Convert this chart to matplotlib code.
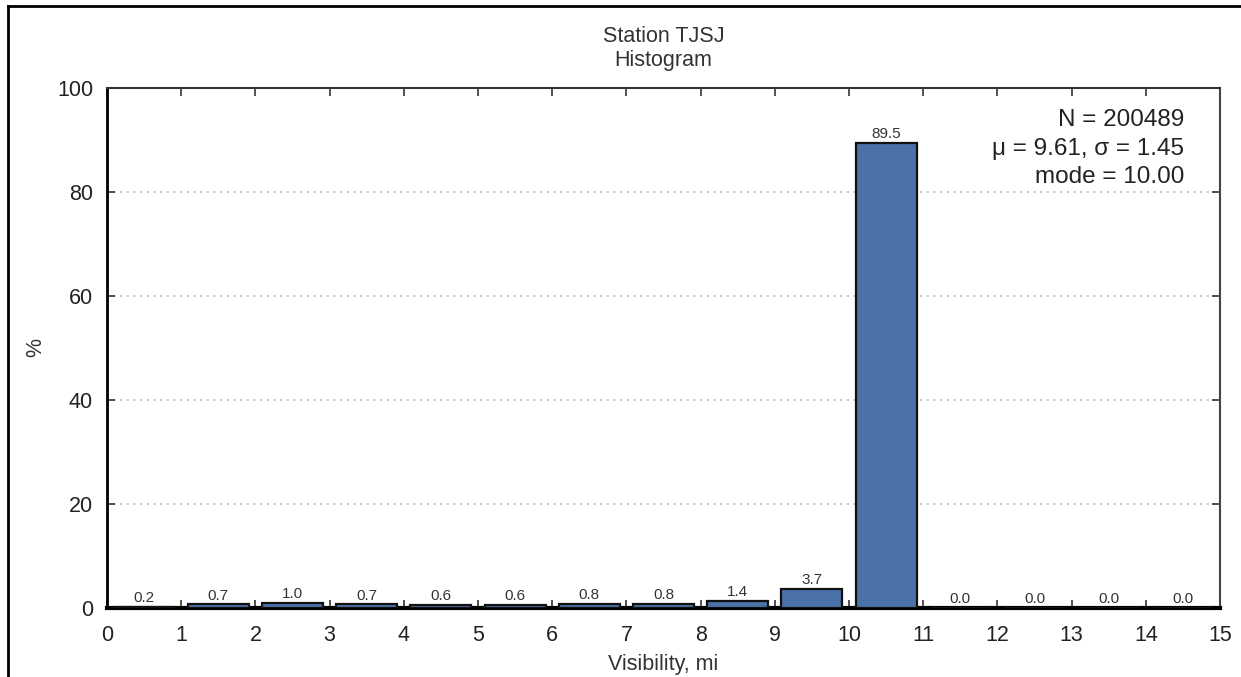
import matplotlib
matplotlib.use("Agg")
import matplotlib.pyplot as plt
from matplotlib.lines import Line2D

plt.rcParams['font.family'] = ['Liberation Sans', 'DejaVu Sans']

bin_left = list(range(0, 15))
percent = [0.2, 0.7, 1.0, 0.7, 0.6, 0.6, 0.8, 0.8, 1.4, 3.7, 89.5, 0.0, 0.0, 0.0, 0.0]
labels = ["0.2", "0.7", "1.0", "0.7", "0.6", "0.6", "0.8", "0.8", "1.4", "3.7", "89.5", "0.0", "0.0", "0.0", "0.0"]
xticks = list(range(0, 16))
yticks = [0, 20, 40, 60, 80, 100]
title = "Station TJSJ\nHistogram"
stats = "N = 200489\n\u03bc = 9.61, \u03c3 = 1.45\nmode = 10.00"

fig = plt.figure(figsize=(12.41, 6.77), dpi=100)
ax = fig.add_axes([0.0862, 0.102, 0.8969, 0.768])

centers = [b + 0.5 for b in bin_left]
ax.bar(centers, percent, width=0.82, color="#4a72a8", edgecolor="#111111", linewidth=1.6, zorder=3)
for c, v, lab in zip(centers, percent, labels):
    ax.text(c, v + 0.3, lab, ha="center", va="bottom", fontsize=11, color="#333333", zorder=4)

ax.set_xlim(0, 15)
ax.set_ylim(0, 100)
ax.set_xticks(xticks)
ax.set_yticks(yticks)
ax.tick_params(axis="both", direction="in", length=6, width=1.2, labelsize=15.5,
               top=True, right=True, colors="#333333", labelcolor="#222222")
ax.tick_params(axis="x", pad=12)
ax.tick_params(axis="y", pad=10)
for y in [20, 40, 60, 80]:
    ax.axhline(y, color="#aaaaaa", linestyle=(0, (1, 3)), linewidth=1.2, zorder=1)

ax.spines["bottom"].set_linewidth(3)
ax.spines["left"].set_linewidth(2)
ax.spines["top"].set_linewidth(1.5)
ax.spines["right"].set_linewidth(1.5)
ax.spines["top"].set_color("#333333")
ax.spines["right"].set_color("#444444")

ax.set_xlabel("Visibility, mi", fontsize=15.5, color="#333333", labelpad=6)
ax.set_ylabel("%", fontsize=15.5, color="#333333", labelpad=8)
ax.set_title(title, fontsize=15.5, color="#333333", pad=16, linespacing=1.15)

ax.text(0.968, 0.96, stats, transform=ax.transAxes, ha="right", va="top",
        fontsize=17.5, color="#222222", linespacing=1.4)

# figure frame (top and left border)
fig.add_artist(Line2D([8/1241, 8/1241], [0, 1 - 6/677], transform=fig.transFigure, color="black", linewidth=2))
fig.add_artist(Line2D([8/1241, 1], [1 - 6/677, 1 - 6/677], transform=fig.transFigure, color="black", linewidth=2))

fig.savefig("out.png", dpi=100)
